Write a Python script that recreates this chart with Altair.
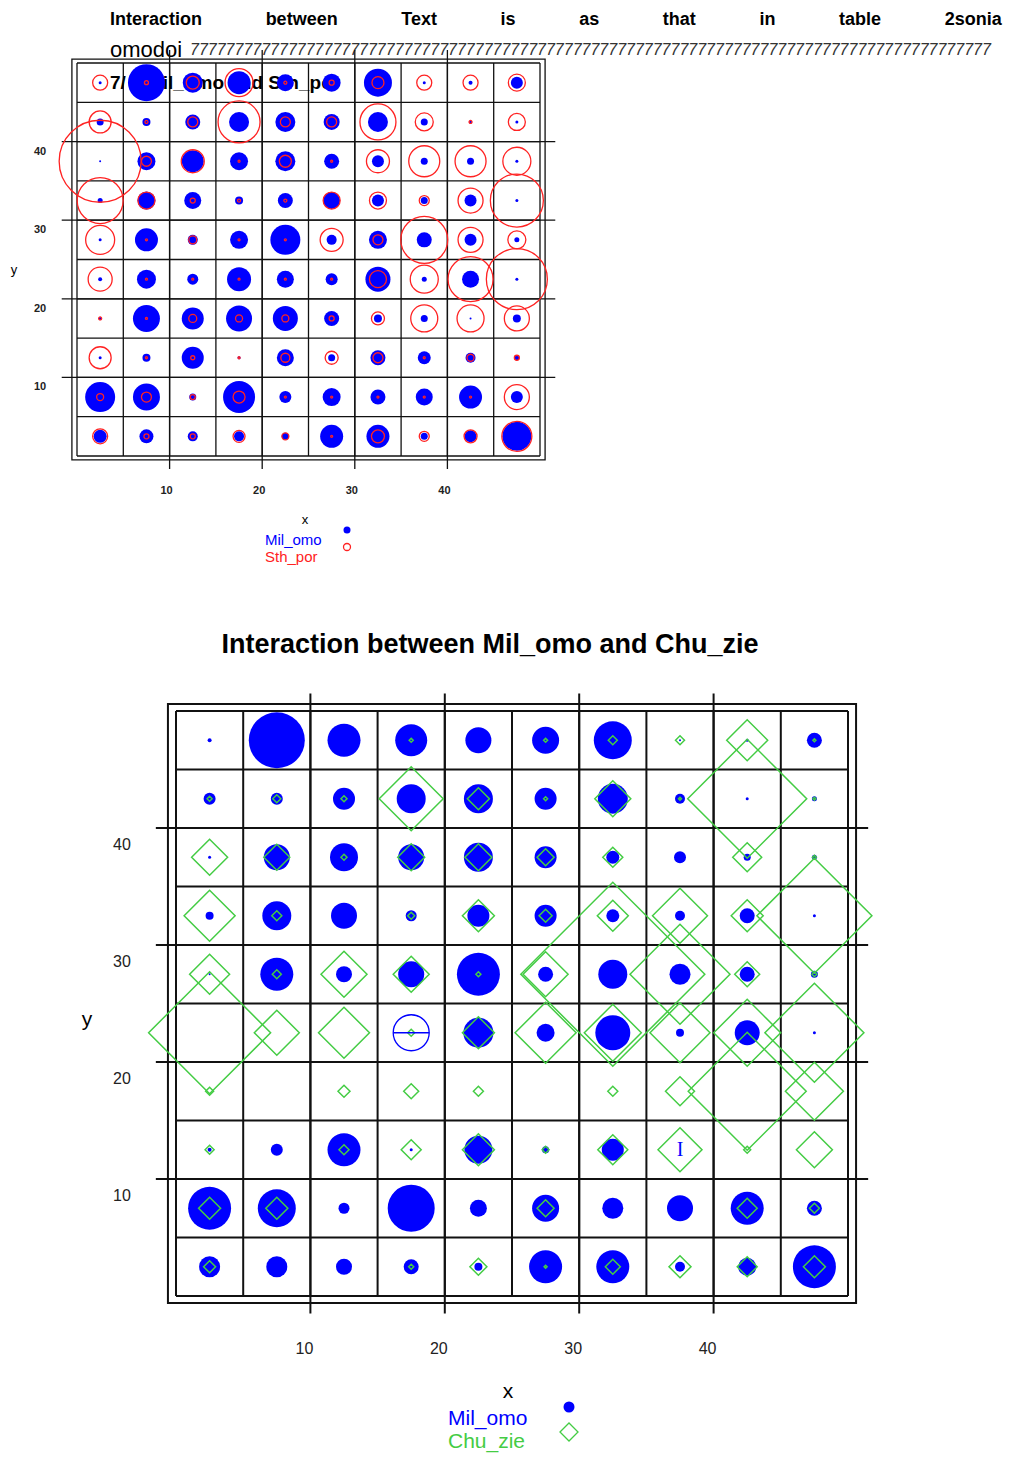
import altair as alt
import pandas as pd

# ---------------- data ----------------
CELLS = [2.5, 7.5, 12.5, 17.5, 22.5, 27.5, 32.5, 37.5, 42.5, 47.5]
ROWS = [47.5, 42.5, 37.5, 32.5, 27.5, 22.5, 17.5, 12.5, 7.5, 2.5]
BOUNDS = [0, 5, 10, 15, 20, 25, 30, 35, 40, 45, 50]
MAJOR = [10, 20, 30, 40]

# top panel: Mil_omo (filled) and Sth_por (open circles), rows listed top to bottom
TOP_BLUE = [
    [3, 37, 20, 23, 17, 18, 28, 3, 4, 12],
    [7, 8, 15, 20, 20, 16, 20, 7, 3, 3],
    [2, 18, 22, 18, 20, 15, 12, 7, 7, 3],
    [5, 18, 17, 8, 15, 17, 12, 7, 12, 3],
    [3, 23, 10, 18, 30, 10, 18, 15, 12, 5],
    [4, 19, 11, 24, 17, 12, 25, 5, 17, 3],
    [3, 27, 22, 26, 25, 15, 8, 7, 2, 8],
    [3, 8, 22, 3, 17, 7, 15, 13, 10, 5],
    [30, 27, 7, 32, 12, 18, 15, 17, 23, 12],
    [13, 14, 10, 10, 7, 23, 23, 7, 12, 29],
]
TOP_RED = [
    [15, 4, 13, 28, 3, 5, 12, 15, 15, 17],
    [22, 3, 10, 42, 10, 10, 36, 18, 3, 17],
    [82, 10, 23, 2, 12, 2, 23, 31, 31, 28],
    [46, 17, 5, 3, 3, 17, 17, 10, 25, 53],
    [29, 2, 8, 2, 2, 23, 10, 47, 25, 18],
    [24, 2, 2, 2, 2, 2, 17, 28, 45, 61],
    [3, 2, 8, 7, 7, 5, 13, 27, 27, 25],
    [22, 2, 4, 2, 9, 13, 10, 2, 7, 5],
    [7, 10, 5, 12, 2, 2, 2, 2, 2, 25],
    [15, 5, 5, 12, 7, 2, 13, 10, 13, 30],
]

# bottom panel: Mil_omo (filled) and Chu_zie (open diamonds)
BOT_BLUE = [
    [4, 56, 33, 32, 26, 27, 38, 2, 3, 15],
    [12, 12, 22, 29, 29, 22, 30, 10, 3, 5],
    [3, 26, 28, 26, 29, 22, 13, 12, 7, 5],
    [8, 29, 26, 11, 22, 22, 13, 10, 15, 3],
    [2, 33, 16, 26, 43, 15, 29, 21, 15, 7],
    [0, 0, 0, 0, 30, 18, 35, 8, 25, 3],
    [0, 0, 0, 0, 0, 0, 0, 0, 0, 0],
    [4, 12, 33, 3, 28, 7, 22, 0, 0, 0],
    [43, 38, 11, 47, 17, 27, 21, 26, 33, 15],
    [21, 21, 16, 15, 8, 33, 33, 10, 18, 43],
]
BOT_GREEN = [
    [0, 0, 0, 4, 0, 4, 9, 9, 41, 3],
    [5, 8, 6, 64, 22, 4, 36, 3, 119, 3],
    [36, 26, 6, 27, 27, 17, 20, 0, 29, 4],
    [51, 10, 0, 7, 32, 13, 31, 55, 32, 115],
    [40, 9, 46, 36, 5, 45, 184, 100, 25, 5],
    [122, 45, 51, 7, 32, 61, 57, 60, 67, 99],
    [8, 0, 12, 15, 10, 0, 10, 29, 118, 58],
    [9, 0, 10, 20, 32, 7, 30, 44, 7, 36],
    [22, 22, 0, 0, 0, 17, 0, 0, 20, 10],
    [12, 0, 0, 5, 17, 3, 15, 22, 20, 22],
]
# stray marks seen in the bottom panel
RING_X, RING_Y, RING_V = [17.5], [22.5], [36]
IBEAM_X, IBEAM_Y = [37.5], [12.5]

HEADER_WORDS = ["Interaction", "between", "Text", "is", "as", "that", "in", "table", "2sonia"]
HEADER_2 = "omodoi"
TOP_INLINE = "7/\u00a0\u00a0\u00a0\u00a0Mil_omo and Sth_por"
BOTTOM_TITLE = "Interaction between Mil_omo and Chu_zie"
TOP_SERIES = ["Mil_omo", "Sth_por"]
BOT_SERIES = ["Mil_omo", "Chu_zie"]

BLUE = "#0000FF"
RED = "#FF2222"
GREEN = "#44CC44"
INK = "#111111"
FONT = "Liberation Sans"


def cells_df(matrix):
    recs = []
    for r, row in enumerate(matrix):
        for c, v in enumerate(row):
            if v > 0:
                recs.append({"x": CELLS[c], "y": ROWS[r], "v": v})
    return pd.DataFrame(recs)


SIZE = alt.Scale(type="pow", exponent=2, domain=[0, 200], range=[0, 40000])


def panel(xs, ys, ext, fx, fy, lw, lab_size, lab_weight, xlab_y, xlab_dx, ylab_x, ylab_dy,
          blue, other, other_shape, other_color, other_w, before=None, after=None):
    def X(f):
        return alt.X(f, type="quantitative", scale=xs, axis=None)

    def Y(f):
        return alt.Y(f, type="quantitative", scale=ys, axis=None)

    grid = pd.DataFrame({"b": BOUNDS, "lo": 0, "hi": 50})
    major = pd.DataFrame({"b": MAJOR, "lo": -ext, "hi": 50 + ext})
    frame = pd.DataFrame({"x": [-fx], "x2": [50 + fx], "y": [-fy], "y2": [50 + fy]})

    layers = []
    for df in (grid, major):
        layers.append(alt.Chart(df).mark_rule(color=INK, strokeWidth=lw).encode(
            x=X("b"), y=Y("lo"), y2="hi"))
        layers.append(alt.Chart(df).mark_rule(color=INK, strokeWidth=lw).encode(
            y=Y("b"), x=X("lo"), x2="hi"))
    layers.append(alt.Chart(frame).mark_rect(fill="transparent", stroke=INK, strokeWidth=lw).encode(
        x=X("x"), x2="x2", y=Y("y"), y2="y2"))
    if before is not None:
        layers.extend(before(X, Y))
    layers.append(alt.Chart(cells_df(blue)).mark_point(
        shape="circle", filled=True, color=BLUE, opacity=1).encode(
        x=X("x"), y=Y("y"), size=alt.Size("v:Q", scale=SIZE, legend=None)))
    layers.append(alt.Chart(cells_df(other)).mark_point(
        shape=other_shape, filled=False, color=other_color, strokeWidth=other_w, opacity=1).encode(
        x=X("x"), y=Y("y"), size=alt.Size("v:Q", scale=SIZE, legend=None)))
    if after is not None:
        layers.extend(after(X, Y))
    ticks = pd.DataFrame({"t": MAJOR})
    layers.append(alt.Chart(ticks).mark_text(fontSize=lab_size, fontWeight=lab_weight, font=FONT,
                                             color="#222", dx=xlab_dx).encode(
        x=X("t"), y=alt.value(xlab_y), text="t:Q"))
    layers.append(alt.Chart(ticks).mark_text(fontSize=lab_size, fontWeight=lab_weight, font=FONT,
                                             color="#222", dy=ylab_dy).encode(
        y=Y("t"), x=alt.value(ylab_x), text="t:Q"))
    return alt.layer(*layers)


# ---------------- top panel ----------------
top_x = alt.Scale(domain=[0, 50], range=[69, 532], nice=False, zero=False)
top_y = alt.Scale(domain=[0, 50], range=[448, 55], nice=False, zero=False)


def top_before(X, Y):
    return [alt.Chart(pd.DataFrame({"t": [TOP_INLINE]})).mark_text(
        align="left", fontSize=19, fontWeight="bold", font=FONT, color="#000").encode(
        x=alt.value(102), y=alt.value(75), text="t:N")]


top = panel(top_x, top_y, 1.65, 0.55, 0.5, 1.3, 11, "bold", 483, -3, 32, 10,
            TOP_BLUE, TOP_RED, "circle", RED, 1.3, before=top_before)

# ---------------- bottom panel ----------------
bot_x = alt.Scale(domain=[0, 50], range=[168, 840], nice=False, zero=False)
bot_y = alt.Scale(domain=[0, 50], range=[1288, 703], nice=False, zero=False)


def bot_after(X, Y):
    ring = pd.DataFrame({"x": RING_X, "y": RING_Y, "v": RING_V})
    ibeam = pd.DataFrame({"x": IBEAM_X, "y": IBEAM_Y, "t": ["I"]})
    return [
        alt.Chart(ring).mark_point(shape="circle", filled=False, color=BLUE, strokeWidth=1.3, opacity=1).encode(
            x=X("x"), y=Y("y"), size=alt.Size("v:Q", scale=SIZE, legend=None)),
        alt.Chart(ring).mark_point(shape="stroke", filled=False, color=BLUE, strokeWidth=1.5, opacity=1).encode(
            x=X("x"), y=Y("y"), size=alt.Size("v:Q", scale=SIZE, legend=None)),
        alt.Chart(ibeam).mark_text(fontSize=20, font="Liberation Serif", color=BLUE).encode(
            x=X("x"), y=Y("y"), text="t:N"),
    ]


bottom = panel(bot_x, bot_y, 1.5, 0.6, 0.6, 2, 16, "normal", 1341, -6, 114, 17,
               BOT_BLUE, BOT_GREEN, "diamond", GREEN, 1.5, after=bot_after)

# ---------------- free text: header, titles, legends ----------------
GAP = "\u00a0" * 12 + "\u2009"
header = alt.Chart(pd.DataFrame({"t": [GAP.join(HEADER_WORDS)]})).mark_text(
    align="left", fontSize=18, fontWeight="bold", font=FONT, color="#000").encode(
    x=alt.value(102), y=alt.value(12), text="t:N")
header2 = alt.Chart(pd.DataFrame({"t": [HEADER_2]})).mark_text(
    align="left", fontSize=22, font=FONT, color="#000").encode(
    x=alt.value(102), y=alt.value(42), text="t:N")
sevens = alt.Chart(pd.DataFrame({"t": ["7" * 90]})).mark_text(
    align="left", fontSize=16, fontStyle="italic", font=FONT, color="#333").encode(
    x=alt.value(182), y=alt.value(42), text="t:N")

bot_title = alt.Chart(pd.DataFrame({"t": [BOTTOM_TITLE]})).mark_text(
    fontSize=27, fontWeight="bold", font=FONT, color="#000").encode(
    x=alt.value(482), y=alt.value(637), text="t:N")


def axis_letters(ylet_x, ylet_y, xlet_x, xlet_y, size):
    return [
        alt.Chart(pd.DataFrame({"t": ["y"]})).mark_text(fontSize=size, font=FONT, color="#000").encode(
            x=alt.value(ylet_x), y=alt.value(ylet_y), text="t:N"),
        alt.Chart(pd.DataFrame({"t": ["x"]})).mark_text(fontSize=size, font=FONT, color="#000").encode(
            x=alt.value(xlet_x), y=alt.value(xlet_y), text="t:N"),
    ]


def legend(names, colors, tx, ty, gap, size, sx, sy, sgap, ssize, second_shape, second_color):
    out = []
    for i, (n, c) in enumerate(zip(names, colors)):
        out.append(alt.Chart(pd.DataFrame({"t": [n]})).mark_text(
            align="left", fontSize=size, font=FONT, color=c).encode(
            x=alt.value(tx), y=alt.value(ty + i * gap), text="t:N"))
    out.append(alt.Chart(pd.DataFrame({"t": [names[0]]})).mark_point(
        shape="circle", filled=True, color=BLUE, opacity=1).encode(
        x=alt.value(sx), y=alt.value(sy), size=alt.value(ssize[0])))
    out.append(alt.Chart(pd.DataFrame({"t": [names[1]]})).mark_point(
        shape=second_shape, filled=False, color=second_color, strokeWidth=1.3, opacity=1).encode(
        x=alt.value(sx), y=alt.value(sy + sgap), size=alt.value(ssize[1])))
    return out


deco = alt.layer(
    header, sevens, header2, bot_title,
    *axis_letters(6, 262, 297, 512, 13),
    *axis_letters(79, 1012, 500, 1384, 21),
    *legend(TOP_SERIES, [BLUE, RED], 257, 532, 17, 15, 339, 522, 17, [49, 49], "circle", RED),
    *legend(BOT_SERIES, [BLUE, GREEN], 440, 1411, 23, 21, 561, 1399, 25, [121, 324], "diamond", GREEN),
)

chart = alt.layer(deco, top, bottom).resolve_scale(
    x="independent", y="independent"
).properties(
    width=996, height=1445,
    autosize=alt.AutoSizeParams(type="none"),
    padding=0,
).configure_view(stroke=None)

chart.save("out.html", embed_options={"renderer": "svg", "actions": False})
